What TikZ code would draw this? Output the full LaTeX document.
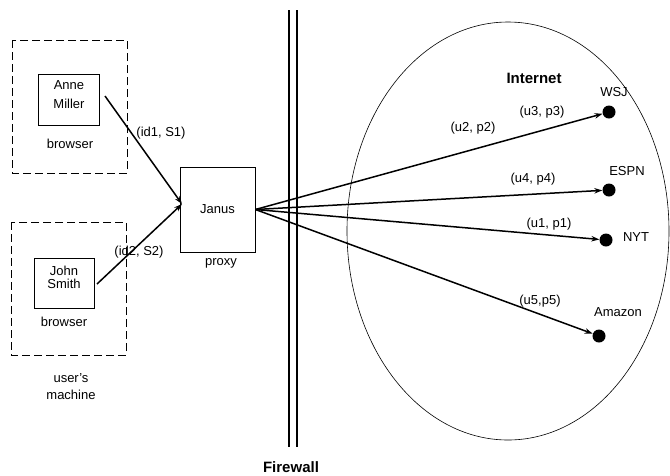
\documentclass[tikz,border=0pt]{standalone}
\usepackage{fontspec}
\setmainfont{Liberation Sans}
\usetikzlibrary{arrows.meta,positioning}

\tikzset{
  machine/.style={draw, dash pattern=on 8pt off 4pt, line width=0.8pt},
  userbox/.style={draw, line width=0.8pt, minimum width=61pt, minimum height=51pt, align=center, inner sep=0pt},
  site/.style={circle, fill=black, minimum size=13pt, inner sep=0pt},
  conn/.style={-{Stealth[length=8pt,width=5.5pt]}, line width=1.5pt},
  lbl/.style={font=\fontsize{13}{17}\selectfont, inner sep=0pt},
  title/.style={font=\fontsize{15}{18}\selectfont\bfseries, inner sep=0pt},
}

\begin{document}
\begin{tikzpicture}[x=1pt,y=-1pt,lbl]
    \useasboundingbox (0,0) rectangle (670,475);

    % User's machine
    \draw[machine] (12,40) rectangle (127,173);
    \draw[machine] (11,222) rectangle (126,355);
    \node[userbox, text depth=11pt] (anne) at (69,100) {Anne\\[2pt]Miller};
    \node[userbox, text depth=12pt, minimum width=60pt, minimum height=50pt] (john) at (64,283) {John\\[-4pt]Smith};
    \node (br1) at (70,144) {browser};
    \node (br2) at (64,322) {browser};
    \node[align=center] (um) at (71,387) {user's\\machine};

    % Proxy
    \node[userbox, minimum width=75pt, minimum height=85pt] (janus) at (217.5,209.5) {Janus};
    \node (px) at (221,263) {proxy};
    \coordinate (jin) at (182,204);
    \coordinate (aout) at (105,96);
    \coordinate (jout) at (97,284);

    % Firewall
    \draw[line width=1.3pt] (289,10) -- (289,447);
    \draw[line width=1.3pt] (297,10) -- (297,447);
    \node[title] (fw) at (291,467) {Firewall};

    % Internet
    \draw[line width=0.6pt] (508,231) ellipse [x radius=161, y radius=209];
    \node[title] (inet) at (534,78) {Internet};
    \node[site] (wsj) at (609,112) {};
    \node[site] (espn) at (609,190) {};
    \node[site] (nyt) at (606,240) {};
    \node[site] (amzn) at (599,336) {};
    \node (wsjl) at (614,92) {WSJ};
    \node (espnl) at (627,171) {ESPN};
    \node (nytl) at (636,237) {NYT};
    \node (amznl) at (618,312) {Amazon};

    % Connections
    \draw[conn] (aout) -- (jin);
    \draw[conn] (jout) -- (jin);
    \node (c1) at (161,133) {(id1, S1)};
    \node (c2) at (139,252) {(id2, S2)};

    \draw[conn] (janus.east) -- (wsj);
    \draw[conn] (janus.east) -- (espn);
    \draw[conn] (janus.east) -- (nyt);
    \draw[conn] (janus.east) -- (amzn);
    \node (k2) at (473,128) {(u2, p2)};
    \node (k3) at (542,112) {(u3, p3)};
    \node (k4) at (533,179) {(u4, p4)};
    \node (k1) at (549,224) {(u1, p1)};
    \node (k5) at (540,301) {(u5,p5)};

\end{tikzpicture}
\end{document}
